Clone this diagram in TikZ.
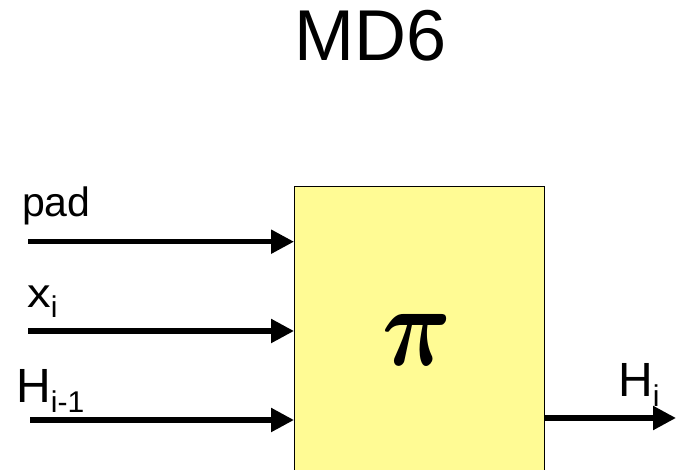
\documentclass[tikz,border=0pt]{standalone}
\usepackage{fontspec}
\setmainfont{Liberation Sans}
\usepackage{bm}
\usetikzlibrary{arrows.meta}
\definecolor{boxyellow}{HTML}{FFFB94}
\newcommand{\sbs}[1]{\raisebox{-10pt}{\fontsize{30}{30}\selectfont #1}}
\tikzset{
  x=1pt, y=1pt,
  pibox/.style={draw=black, line width=1.3pt, fill=boxyellow, rectangle, inner sep=0pt,
                minimum width=250pt, minimum height=320pt, anchor=north west},
  flow/.style={line width=5.3pt, -{Triangle[length=23pt,width=23pt]}},
  lbl/.style={inner sep=0pt, anchor=base west, font=\fontsize{41}{44}\selectfont},
  lblH/.style={inner sep=0pt, anchor=base west, font=\fontsize{48}{52}\selectfont},
}
\begin{document}
\begin{tikzpicture}
\useasboundingbox (0,0) rectangle (676,470);
\clip (0,0) rectangle (676,470);
\fill[white] (0,0) rectangle (676,470);
% title
\node[inner sep=0pt, font=\fontsize{72}{80}\selectfont] (title) at (371,434) {MD6};
% box
\node[pibox] (box) at (294,284.3) {};
\node[inner sep=0pt] (pi) at (417,130) {\scalebox{9.6}[11.5]{$\bm{\pi}$}};
% labels
\node[lbl] (padl) at (22,253) {pad};
\node[lbl] (xl) at (27,162) {\scalebox{1.15}[1]{x}\sbs{i}};
\node[lblH] (hinl) at (16,67) {H\sbs{i-1}};
\node[lblH] (houtl) at (618,73) {H\sbs{i}};
% arrows
\coordinate (padin) at (28,228.3);
\coordinate (xin) at (28,139);
\coordinate (hin) at (30,50);
\coordinate (hout) at (676,52);
\draw[flow] (padin) -- (box.west |- padin);
\draw[flow] (xin) -- (box.west |- xin);
\draw[flow] (hin) -- (box.west |- hin);
\draw[flow] (box.east |- hout) -- (hout);
\end{tikzpicture}
\end{document}
